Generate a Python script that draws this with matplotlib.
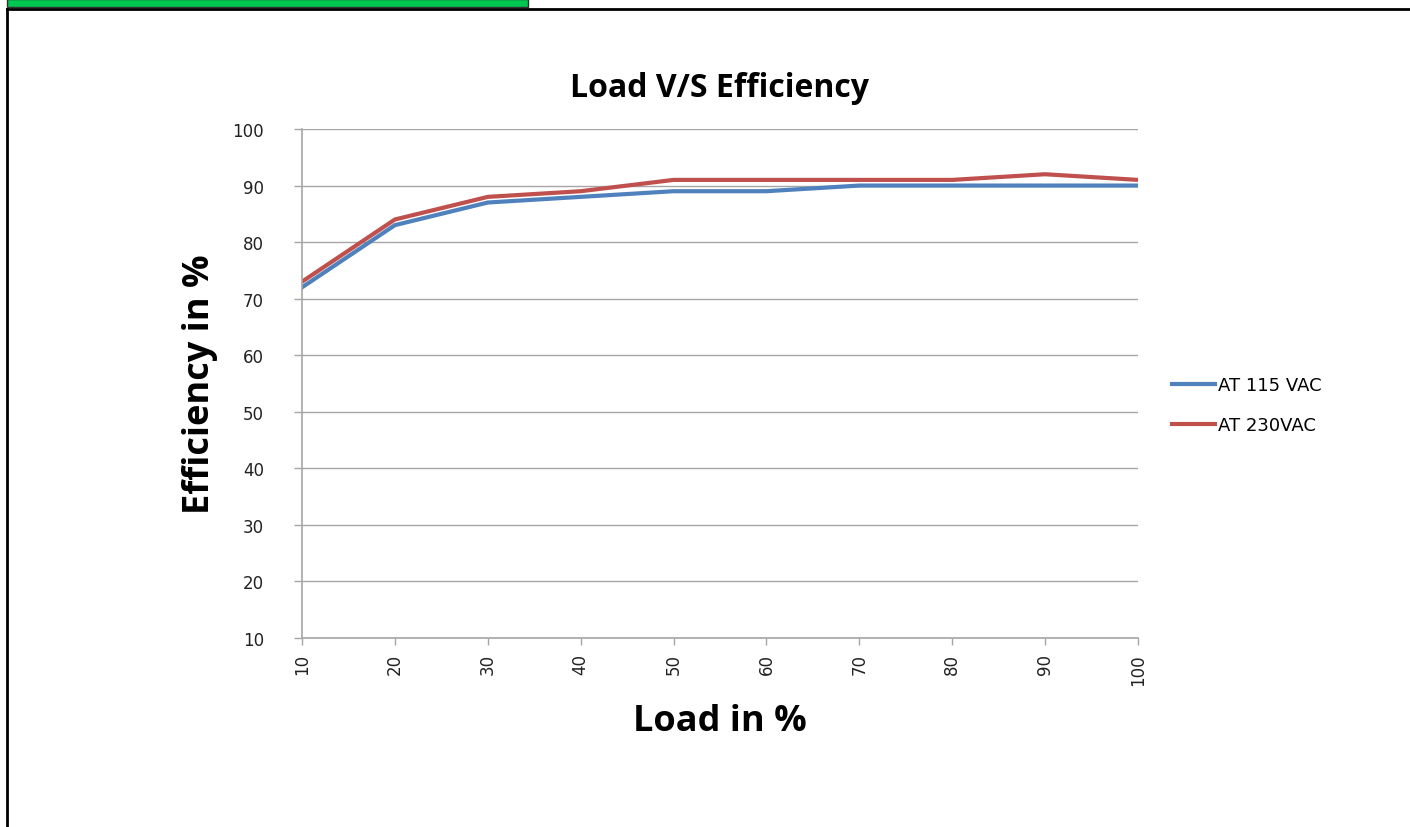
import matplotlib
matplotlib.use("Agg")
import matplotlib.pyplot as plt
from matplotlib.patches import Rectangle
from matplotlib.lines import Line2D

load = [10, 20, 30, 40, 50, 60, 70, 80, 90, 100]
eff_115 = [72, 83, 87, 88, 89, 89, 90, 90, 90, 90]
eff_230 = [73, 84, 88, 89, 91, 91, 91, 91, 92, 91]
series_names = ["AT 115 VAC", "AT 230VAC"]
yticks = [10, 20, 30, 40, 50, 60, 70, 80, 90, 100]

W, H = 1410, 828
fig = plt.figure(figsize=(W / 100, H / 100), dpi=100)
fig.patch.set_facecolor("white")

# frame decorations
fig.patches.append(Rectangle((7 / W, 1 - 8 / H), (528 - 7) / W, 8 / H, transform=fig.transFigure,
                             facecolor="#00C850", edgecolor="#333333", linewidth=1))
fig.add_artist(Line2D([7 / W, 1], [1 - 10 / H, 1 - 10 / H], transform=fig.transFigure, color="black", linewidth=2))
fig.add_artist(Line2D([7 / W, 7 / W], [0, 1 - 10 / H], transform=fig.transFigure, color="black", linewidth=2))

ax = fig.add_axes([302 / W, 1 - 639 / H, (1138 - 302) / W, (639 - 130) / H])
ax.plot(load, eff_115, color="#4F81BD", linewidth=3.0, label=series_names[0], solid_joinstyle="round")
ax.plot(load, eff_230, color="#C0504D", linewidth=3.0, label=series_names[1], solid_joinstyle="round")

ax.set_xlim(10, 100)
ax.set_ylim(10, 100)
ax.set_xticks(load)
ax.set_yticks(yticks)
ax.set_xticklabels([str(v) for v in load], rotation=90, fontsize=12, family="DejaVu Sans", color="#222222")
ax.set_yticklabels([str(v) for v in yticks], fontsize=12, family="DejaVu Sans", color="#222222")
ax.grid(axis="y", color="#A6A6A6", linewidth=1)
ax.set_axisbelow(True)
for s in ["top", "right"]:
    ax.spines[s].set_visible(False)
for s in ["left", "bottom"]:
    ax.spines[s].set_color("#A6A6A6")
    ax.spines[s].set_linewidth(1.2)
ax.tick_params(axis="x", direction="out", color="#A6A6A6", length=5, width=1, pad=6)
ax.tick_params(axis="y", direction="out", color="#A6A6A6", length=5.5, width=1, pad=22)

ax.set_title("Load V/S Efficiency", fontsize=23, fontweight="bold", family="Open Sans", pad=24)
ax.set_xlabel("Load in %", fontsize=26, fontweight="bold", family="Open Sans", labelpad=13)
ax.set_ylabel("Efficiency in %", fontsize=26, fontweight="bold", family="Open Sans", labelpad=10)

ax.legend(loc="center left", bbox_to_anchor=(1172 / W, 1 - 406 / H), bbox_transform=fig.transFigure,
          frameon=False, prop={"family": "DejaVu Sans", "size": 13}, handlelength=2.4,
          handletextpad=0.15, labelspacing=1.2, borderpad=0, borderaxespad=0)

fig.savefig("out.png", dpi=100)
